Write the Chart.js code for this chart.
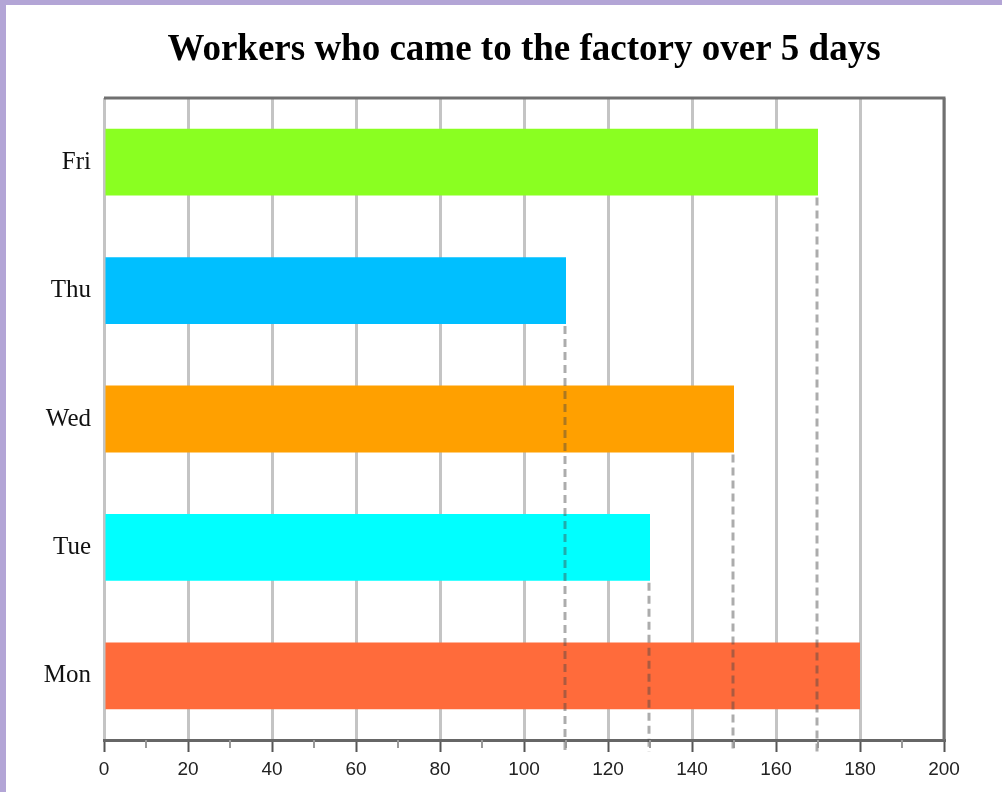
<!DOCTYPE html>
<html>
<head>
<meta charset="utf-8">
<script src="https://cdn.jsdelivr.net/npm/chart.js@4"></script>
<style>
  html, body { margin: 0; padding: 0; background: #b3a5d6; }
  #wrap { position: absolute; left: 6px; top: 5px; width: 996px; height: 787px; background: #fff; }
</style>
</head>
<body>
<div id="wrap"><canvas id="mycanvas" width="996" height="787"></canvas></div>
<script>
// data
let days = ['Mon', 'Tue', 'Wed', 'Thu', 'Fri'];
let workers = [180, 130, 150, 110, 170];
let barColors = ['#ff6b3b', '#00ffff', '#ffa000', '#00bfff', '#8aff21'];
let chartTitle = 'Workers who came to the factory over 5 days';

// title + frame + dashed drop lines + minor ticks
let extras = {
    id: 'extras',
    afterDatasetsDraw: function(chart) {
        let ctx = chart.ctx;
        let area = chart.chartArea;
        let x = chart.scales.x;
        let meta = chart.getDatasetMeta(0);

        // dashed lines from bar ends down past the axis
        ctx.save();
        ctx.strokeStyle = 'rgba(70,70,70,0.45)';
        ctx.lineWidth = 3;
        ctx.setLineDash([8, 5]);
        for (let i = 0; i < meta.data.length; i++) {
            let bar = meta.data[i];
            let px = x.getPixelForValue(workers[i]);
            if (Math.abs(px - x.getPixelForValue(180)) < 1) continue;
            ctx.beginPath();
            ctx.moveTo(px - 1, bar.y + bar.height / 2 + 2);
            ctx.lineTo(px - 1, area.bottom + 12);
            ctx.stroke();
        }
        ctx.restore();
    },
    afterDraw: function(chart) {
        let ctx = chart.ctx;
        let area = chart.chartArea;
        let x = chart.scales.x;
        ctx.save();
        // minor ticks
        ctx.strokeStyle = '#999';
        ctx.lineWidth = 2;
        for (let v = 10; v < 200; v += 20) {
            let px = x.getPixelForValue(v);
            ctx.beginPath();
            ctx.moveTo(px, area.bottom);
            ctx.lineTo(px, area.bottom + 8);
            ctx.stroke();
        }
        // top and right frame
        ctx.strokeStyle = '#707070';
        ctx.lineWidth = 3;
        ctx.beginPath();
        ctx.moveTo(area.left, area.top);
        ctx.lineTo(area.right, area.top);
        ctx.lineTo(area.right, area.bottom);
        ctx.stroke();
        // title
        ctx.fillStyle = '#000';
        ctx.font = 'bold 37px "Liberation Serif"';
        ctx.textAlign = 'center';
        ctx.textBaseline = 'middle';
        ctx.fillText(chartTitle, (area.left + area.right) / 2, 45);
        ctx.restore();
    }
};

let ctx = document.getElementById('mycanvas');

let chart = new Chart(ctx, {
    type: 'bar',
    data: {
        labels: days,
        datasets: [{
            data: workers,
            backgroundColor: barColors,
            borderWidth: 0,
            barPercentage: 0.52,
            categoryPercentage: 1
        }]
    },
    options: {
        indexAxis: 'y',
        responsive: false,
        animation: false,
        layout: { padding: { top: 93, right: 58, left: 0, bottom: 0 } },
        plugins: {
            legend: { display: false },
            tooltip: { enabled: false }
        },
        scales: {
            x: {
                min: 0,
                max: 200,
                ticks: {
                    stepSize: 20,
                    color: '#222',
                    padding: 6,
                    font: { family: '"Liberation Sans"', size: 19 }
                },
                grid: {
                    color: '#c4c4c4',
                    lineWidth: 3,
                    tickLength: 12,
                    tickColor: '#555',
                    tickWidth: 2
                },
                border: { display: true, color: '#666', width: 3 },
                afterFit: function(scale) { scale.height = 52; }
            },
            y: {
                reverse: true,
                ticks: {
                    color: '#111',
                    padding: 5,
                    font: { family: '"Liberation Serif"', size: 25 }
                },
                grid: { display: false },
                border: { display: false },
                afterFit: function(scale) { scale.width = 98; }
            }
        }
    },
    plugins: [extras]
});
</script>
</body>
</html>
